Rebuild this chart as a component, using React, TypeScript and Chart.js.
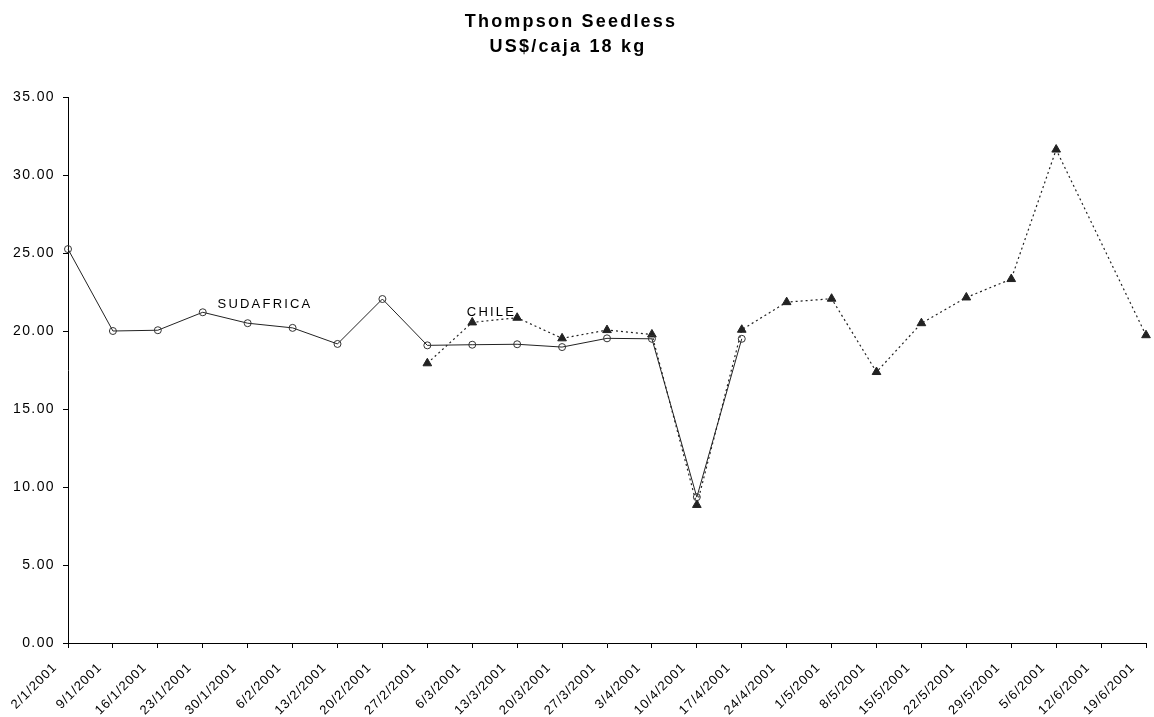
import React, { useEffect, useRef } from 'react';
import { Chart, registerables } from 'chart.js';

Chart.register(...registerables);

const categories = [
  '2/1/2001', '9/1/2001', '16/1/2001', '23/1/2001', '30/1/2001', '6/2/2001',
  '13/2/2001', '20/2/2001', '27/2/2001', '6/3/2001', '13/3/2001', '20/3/2001',
  '27/3/2001', '3/4/2001', '10/4/2001', '17/4/2001', '24/4/2001', '1/5/2001',
  '8/5/2001', '15/5/2001', '22/5/2001', '29/5/2001', '5/6/2001', '12/6/2001',
  '19/6/2001',
];

const sudafrica = [
  25.25, 20.0, 20.05, 21.2, 20.5, 20.2, 19.17, 22.05, 19.08, 19.12, 19.15,
  18.97, 19.53, 19.5, 9.35, 19.5, null, null, null, null, null, null, null,
  null, null,
];

const chile = [
  null, null, null, null, null, null, null, null, 17.93, 20.55, 20.85, 19.53,
  20.06, 19.78, 8.85, 20.08, 21.85, 22.07, 17.37, 20.5, 22.15, 23.33, 31.63,
  null, 19.73,
];

const titleLines = ['Thompson Seedless', 'US$/caja 18 kg'];
const seriesNames = ['SUDAFRICA', 'CHILE'];
const seriesLabelX = [3.33, 8.88];
const seriesLabelY = [21.46, 20.98];

const FONT = '"Liberation Sans", Arial, Helvetica, sans-serif';

function withSpacing(scale: any, spacing: string) {
  if (scale.__patched) return;
  const orig = scale.drawLabels.bind(scale);
  scale.drawLabels = (area: any) => {
    const ctx = scale.ctx;
    const prev = ctx.letterSpacing;
    ctx.letterSpacing = spacing;
    orig(area);
    ctx.letterSpacing = prev || '0px';
  };
  scale.__patched = true;
}

export default function App() {
  const ref = useRef<HTMLCanvasElement>(null);

  useEffect(() => {
    const canvas = ref.current;
    if (!canvas) return;

    const decor = {
      id: 'decor',
      beforeDraw(chart: any) {
        withSpacing(chart.scales.x, '1px');
        withSpacing(chart.scales.y, '1.4px');
      },
      afterDraw(chart: any) {
        const ctx = chart.ctx;
        ctx.save();
        ctx.fillStyle = '#000';
        ctx.letterSpacing = '2.2px';
        ctx.font = `bold 18px ${FONT}`;
        ctx.textAlign = 'center';
        ctx.textBaseline = 'alphabetic';
        ctx.fillText(titleLines[0], 571, 27);
        ctx.fillText(titleLines[1], 568, 51.5);
        ctx.letterSpacing = '2.2px';
        ctx.font = `13px ${FONT}`;
        ctx.textAlign = 'left';
        const xs = chart.scales.x;
        const ys = chart.scales.y;
        seriesNames.forEach((name, i) => {
          ctx.fillText(name, xs.getPixelForValue(seriesLabelX[i]), ys.getPixelForValue(seriesLabelY[i]));
        });
        ctx.restore();
        ctx.letterSpacing = '0px';
      },
    };

    const chart = new Chart(canvas, {
      type: 'line',
      data: {
        labels: categories,
        datasets: [
          {
            label: seriesNames[0],
            data: sudafrica,
            borderColor: '#222',
            borderWidth: 1,
            pointStyle: 'circle',
            pointRadius: 3.5,
            pointBorderWidth: 1,
            pointBorderColor: '#333',
            pointBackgroundColor: 'rgba(0,0,0,0)',
            tension: 0,
            fill: false,
          },
          {
            label: seriesNames[1],
            data: chile,
            borderColor: '#222',
            borderWidth: 1.2,
            borderDash: [2, 3],
            pointStyle: 'triangle',
            pointRadius: 5,
            pointBorderWidth: 1,
            pointBorderColor: '#222',
            pointBackgroundColor: '#222',
            spanGaps: true,
            tension: 0,
            fill: false,
          },
        ],
      },
      options: {
        responsive: false,
        animation: false,
        devicePixelRatio: 1,
        layout: { padding: { top: 97, right: 8, bottom: 0, left: 0 } },
        plugins: {
          legend: { display: false },
          tooltip: { enabled: false },
          title: { display: false },
        },
        scales: {
          x: {
            type: 'category',
            offset: false,
            grid: {
              display: true,
              drawOnChartArea: false,
              drawTicks: true,
              tickLength: 5,
              color: '#000',
              lineWidth: 1,
            },
            border: { display: true, color: '#000', width: 1 },
            ticks: {
              autoSkip: false,
              minRotation: 45,
              maxRotation: 45,
              padding: 12,
              labelOffset: -13,
              color: '#000',
              font: { family: FONT, size: 13 },
            },
            afterFit(s: any) {
              s.height = 74;
              s.paddingLeft = 0;
              s.paddingRight = 0;
            },
          },
          y: {
            min: 0,
            max: 35,
            grid: {
              display: true,
              drawOnChartArea: false,
              drawTicks: true,
              tickLength: 5,
              color: '#000',
              lineWidth: 1,
            },
            border: { display: true, color: '#000', width: 1 },
            ticks: {
              stepSize: 5,
              padding: 8,
              color: '#000',
              font: { family: FONT, size: 14 },
              callback: (v: any) => Number(v).toFixed(2),
            },
            afterFit(s: any) {
              s.width = 68;
              s.paddingTop = 0;
              s.paddingBottom = 0;
            },
          },
        },
      },
      plugins: [decor],
    } as any);

    return () => chart.destroy();
  }, []);

  return (
    <div style={{ position: 'fixed', left: 0, top: 0, width: 1154, height: 717, background: '#fff' }}>
      <canvas ref={ref} width={1154} height={717} style={{ display: 'block' }} />
    </div>
  );
}
